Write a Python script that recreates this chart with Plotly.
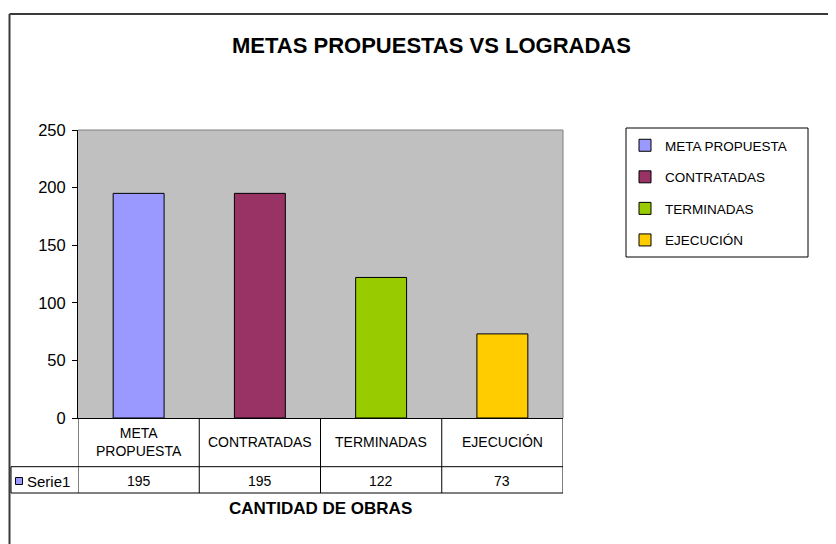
import plotly.graph_objects as go

categories = ["META PROPUESTA", "CONTRATADAS", "TERMINADAS", "EJECUCIÓN"]
header_labels = ["META<br>PROPUESTA", "CONTRATADAS", "TERMINADAS", "EJECUCIÓN"]
values = [195, 195, 122, 73]
colors = ["#9999FF", "#993366", "#99CC00", "#FFCC00"]
series_name = "Serie1"
title_text = "METAS PROPUESTAS VS LOGRADAS"
xaxis_title = "CANTIDAD DE OBRAS"

W, H = 836, 544
OFF = 8  # page body margin offset
L, R, T, B = 78 - OFF, 563 - OFF, 130 - OFF, 418 - OFF
FONT = "Liberation Sans, Arial, sans-serif"


def px(x):
    return (x - OFF - L) / (R - L)


def py(y):
    return (B - (y - OFF)) / (B - T)


fig = go.Figure()
for cat, val, col in zip(categories, values, colors):
    fig.add_trace(go.Bar(
        x=[cat], y=[val], name=cat, legendgroup=cat,
        marker=dict(color=col, line=dict(color="black", width=1)),
        width=0.42,
    ))

shapes = []
# chart frame (top and left edges)
shapes.append(dict(type="line", xref="paper", yref="paper",
                   x0=px(9.5), x1=px(900), y0=py(14), y1=py(14),
                   line=dict(color="#3a3a3a", width=2)))
shapes.append(dict(type="line", xref="paper", yref="paper",
                   x0=px(9.5), x1=px(9.5), y0=py(14), y1=py(600),
                   line=dict(color="#3a3a3a", width=2)))
# plot-area border top/right
shapes.append(dict(type="line", xref="paper", yref="paper",
                   x0=0, x1=1, y0=1, y1=1, line=dict(color="#808080", width=1)))
shapes.append(dict(type="line", xref="paper", yref="paper",
                   x0=1, x1=1, y0=0, y1=1, line=dict(color="#808080", width=1)))
# data table: vertical lines at category boundaries
n = len(categories)
for k in range(n + 1):
    shapes.append(dict(type="line", xref="x", yref="paper",
                       x0=k - 0.5, x1=k - 0.5, y0=0, y1=py(493),
                       line=dict(color="black", width=1)))
# left column line
shapes.append(dict(type="line", xref="paper", yref="paper",
                   x0=px(11), x1=px(11), y0=py(466.7), y1=py(493),
                   line=dict(color="black", width=1)))
# horizontal table lines
for yy in (466.7, 493):
    shapes.append(dict(type="line", xref="paper", yref="paper",
                       x0=px(11), x1=1, y0=py(yy), y1=py(yy),
                       line=dict(color="black", width=1)))
# series key square in table
shapes.append(dict(type="rect", xref="paper", yref="paper",
                   x0=px(15.5), x1=px(22.5), y0=py(477.5), y1=py(484.5),
                   fillcolor=colors[0], line=dict(color="black", width=1)))
# legend box
shapes.append(dict(type="rect", xref="paper", yref="paper",
                   x0=px(626), x1=px(808), y0=py(128), y1=py(257),
                   fillcolor="rgba(0,0,0,0)", line=dict(color="black", width=1)))

annotations = []
for i, (lab, val) in enumerate(zip(header_labels, values)):
    annotations.append(dict(x=categories[i], xref="x", y=py(442), yref="paper",
                            text=lab, showarrow=False, xanchor="center", yanchor="middle",
                            font=dict(family=FONT, size=14, color="black")))
    annotations.append(dict(x=categories[i], xref="x", y=py(481), yref="paper",
                            text=str(val), showarrow=False, xanchor="center", yanchor="middle",
                            font=dict(family=FONT, size=14, color="black")))
annotations.append(dict(x=px(25), xref="paper", y=py(481), yref="paper",
                        text=series_name, showarrow=False, xanchor="left", yanchor="middle",
                        font=dict(family=FONT, size=15, color="black")))
annotations.append(dict(x=0.5, xref="paper", y=py(508), yref="paper",
                        text="<b>" + xaxis_title + "</b>", showarrow=False,
                        xanchor="center", yanchor="middle",
                        font=dict(family=FONT, size=17, color="black")))
annotations.append(dict(x=px(431), xref="paper", y=py(46), yref="paper",
                        text="<b>" + title_text + "</b>", showarrow=False,
                        xanchor="center", yanchor="middle",
                        font=dict(family=FONT, size=22, color="black")))

fig.update_layout(
    width=W, height=H,
    margin=dict(l=L, r=W - R, t=T, b=H - B, pad=0),
    paper_bgcolor="white", plot_bgcolor="#C0C0C0",
    barmode="overlay",
    showlegend=True,
    legend=dict(x=px(625), xanchor="left", y=py(130), yanchor="top",
                bgcolor="rgba(0,0,0,0)", borderwidth=0,
                tracegroupgap=11,
                font=dict(family=FONT, size=13.5, color="black")),
    shapes=shapes, annotations=annotations,
    font=dict(family=FONT, color="black"),
)
fig.update_xaxes(type="category", categoryarray=categories, range=[-0.5, n - 0.5],
                 showticklabels=False, ticks="", showgrid=False,
                 showline=True, linecolor="black", linewidth=1, zeroline=False)
fig.update_yaxes(range=[0, 250], dtick=50, tick0=0, showgrid=False, zeroline=False,
                 showline=True, linecolor="black", linewidth=1,
                 ticks="outside", ticklen=5, tickcolor="black",
                 ticklabelstandoff=3,
                 tickfont=dict(family=FONT, size=16.5, color="black"))

fig.write_html("out.html")
